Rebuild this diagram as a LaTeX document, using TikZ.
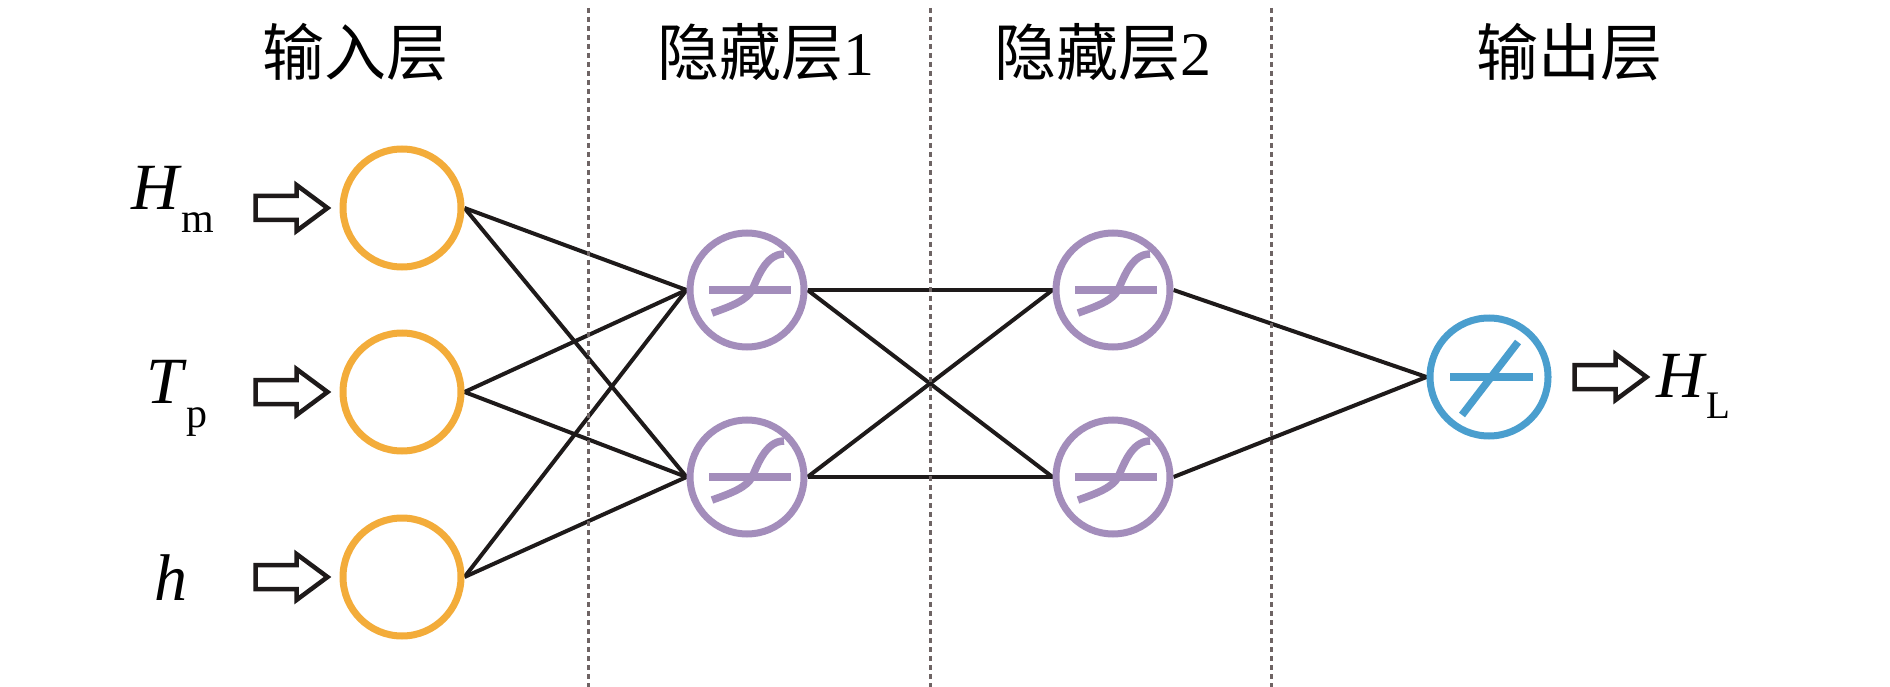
\documentclass[tikz,border=0pt]{standalone}
\usepackage{fontspec}
\setmainfont{Liberation Serif}
\newfontfamily\cjk{Noto Sans CJK SC}
\usetikzlibrary{backgrounds}
\definecolor{inorange}{RGB}{243,172,58}
\definecolor{hidpurple}{RGB}{163,141,187}
\definecolor{outblue}{RGB}{74,158,206}
\definecolor{lnk}{RGB}{30,26,26}
\definecolor{divgray}{RGB}{110,100,100}
\tikzset{
  blockarrow/.pic={\draw[line width=4.5pt, draw=lnk, fill=white, line join=miter]
    (0,0) -- (-31,-23) -- (-31,-12) -- (-72,-12) -- (-72,12) -- (-31,12) -- (-31,23) -- cycle;},
  sigmsym/.pic={\draw[hidpurple, line width=7.5pt] (-38,0) -- (44,0);
    \draw[hidpurple, line width=7.5pt] (-35,23) .. controls (-15,16) and (0,10) .. (5,0)
      .. controls (10,-10) and (18,-36) .. (37,-36);},
  linsym/.pic={\draw[outblue, line width=7.5pt] (-39,0) -- (44,0);
    \draw[outblue, line width=7.5pt] (-27,38) -- (29,-35);}
}
\begin{document}
\begin{tikzpicture}[x=1pt,y=-1pt,
  title/.style={font=\cjk\fontsize{62}{62}\selectfont, inner sep=0pt},
  var/.style={font=\fontsize{66}{66}\selectfont, inner sep=0pt, anchor=base west},
  inneuron/.style={circle, draw=inorange, line width=7pt, minimum size=118pt, inner sep=0pt, fill=white},
  hidneuron/.style={circle, draw=hidpurple, line width=7pt, minimum size=114pt, inner sep=0pt, fill=white},
  outneuron/.style={circle, draw=outblue, line width=7pt, minimum size=118pt, inner sep=0pt, fill=white},
  link/.style={draw=lnk, line width=4pt},
  divider/.style={draw=divgray, line width=3pt, dash pattern=on 5pt off 4pt}
]
\useasboundingbox (0,0) rectangle (1890,687);

% dividers
\draw[divider] (588,8) -- (588,687);
\draw[divider] (930,8) -- (930,687);
\draw[divider] (1271,8) -- (1271,687);

% titles
\node[title] (t1) at (355,52) {输入层};
\node[title] (t2) at (766,52) {隐藏层{\rmfamily 1}};
\node[title] (t3) at (1103,52) {隐藏层{\rmfamily 2}};
\node[title] (t4) at (1569,52) {输出层};

% neurons
\node[inneuron] (in1) at (402,208) {};
\node[inneuron] (in2) at (402,392) {};
\node[inneuron] (in3) at (402,577) {};
\node[hidneuron] (h11) at (747,290) {};
\node[hidneuron] (h12) at (747,477) {};
\node[hidneuron] (h21) at (1113,290) {};
\node[hidneuron] (h22) at (1113,477) {};
\node[outneuron] (out) at (1489,377) {};

\pic at (h11) {sigmsym};
\pic at (h12) {sigmsym};
\pic at (h21) {sigmsym};
\pic at (h22) {sigmsym};
\pic at (out) {linsym};

% connections
\begin{scope}[on background layer]
\foreach \a in {in1,in2,in3}{
  \foreach \b in {h11,h12}{
    \draw[link] (\a.east) -- (\b.west);
  }
}
\foreach \a in {h11,h12}{
  \foreach \b in {h21,h22}{
    \draw[link] (\a.east) -- (\b.west);
  }
}
\draw[link] (h21.east) -- (out.west);
\draw[link] (h22.east) -- (out.west);
\end{scope}

% input / output arrows
\pic at ([xshift=-12pt]in1.west) {blockarrow};
\pic at ([xshift=-12pt]in2.west) {blockarrow};
\pic at ([xshift=-12pt]in3.west) {blockarrow};
\pic at ([xshift=95pt]out.east) {blockarrow};

% variable labels
\node[var] (vHm) at (131,210) {\textit{H}\raisebox{-23pt}{\fontsize{42}{42}\selectfont m}};
\node[var] (vTp) at (146,403) {\textit{T}\raisebox{-24pt}{\fontsize{42}{42}\selectfont p}};
\node[var] (vh) at (154,600) {\textit{h}};
\node[var] (vHL) at (1656,397) {\textit{H}\raisebox{-21pt}{\fontsize{39}{39}\selectfont L}};
\end{tikzpicture}
\end{document}
